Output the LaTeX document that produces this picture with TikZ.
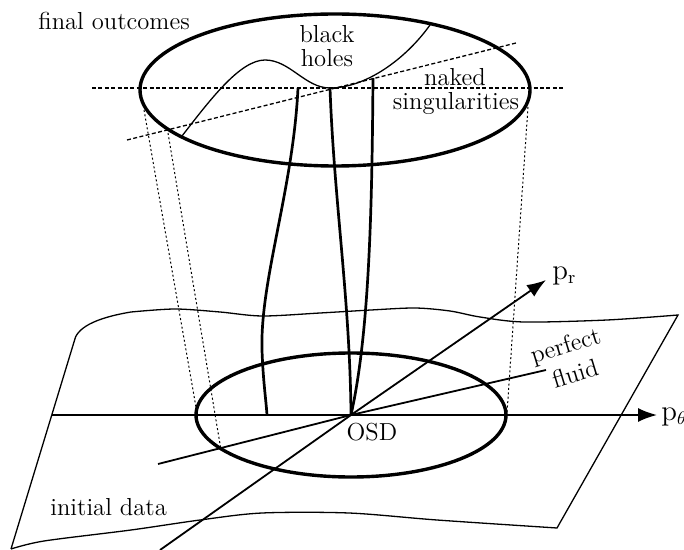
\documentclass[tikz,border=0pt]{standalone}
\usetikzlibrary{arrows.meta}
\begin{document}
\begin{tikzpicture}[x=0.5pt,y=-0.5pt,
  lbl/.style={font=\fontsize{12.3}{12.5}\selectfont, inner sep=0pt},
  plbl/.style={font=\fontsize{13.5}{14}\selectfont, inner sep=0pt},
  rim/.style={line width=1.7pt},
  thickc/.style={line width=1.35pt},
  thinl/.style={line width=0.65pt},
  axisline/.style={line width=0.9pt},
  axisarrow/.style={line width=0.9pt, -{Latex[length=9.5pt,width=7pt]}},
  dashl/.style={line width=0.65pt, dash pattern=on 2pt off 1.2pt},
  proj/.style={line width=0.5pt, dash pattern=on 1pt off 1.2pt}]
\useasboundingbox (0,0) rectangle (684,550);

% sheet of initial data
\draw[thinl] (11,549) -- (74,342) .. controls (76,328) and (95,318) .. (131,312)
  -- plot[smooth] coordinates {(131,312) (175,309) (220,312) (262,316) (320,313) (371,310) (415,308) (450,311) (480,317) (524,322) (607,320) (678,315)}
  -- (557,528)
  -- plot[smooth] coordinates {(557,528) (437,520) (349,513) (262,513) (200,520) (131,530) (44,541) (11,549)};

% ellipses
\coordinate (Ct) at (335,90);
\coordinate (O) at (351,415);
\draw[rim] (Ct) ellipse [x radius=97.5pt, y radius=38pt];
\draw[rim] (O) ellipse [x radius=77.5pt, y radius=31pt];

% dashed lines in the final outcomes
\coordinate (h1) at (92,88);
\coordinate (h2) at (564,88);
\draw[dashl] (h1) -- (h2);
\coordinate (s1) at (127,140);
\coordinate (s2) at (516,43);
\draw[dashl] (s1) -- (s2);

% black hole boundary curve
\draw[thinl] (182,136) .. controls (210,100) and (240,60) .. (265,60)
  .. controls (290,60) and (305,88) .. (330,88)
  .. controls (365,88) and (405,60) .. (430,25);

% evolution curves
\draw[thickc] (298,88) .. controls (293,190) and (260,280) .. (262,350)
  .. controls (263,380) and (266,400) .. (267,415);
\draw[thickc] (330,88) .. controls (334,200) and (350,300) .. (351,415);
\draw[thickc] (373,78) .. controls (372,200) and (370,330) .. (351,415);

% projection lines
\coordinate (pa1) at (144,110); \coordinate (pa2) at (197,413);
\coordinate (pb1) at (168,133); \coordinate (pb2) at (221,450);
\coordinate (pc1) at (528,107); \coordinate (pc2) at (507,413);
\draw[proj] (pa1) -- (pa2);
\draw[proj] (pb1) -- (pb2);
\draw[proj] (pc1) -- (pc2);

% axes
\coordinate (th0) at (52,415);
\coordinate (th1) at (657,415);
\coordinate (r0) at (160,550);
\coordinate (r1) at (546,280);
\coordinate (f0) at (158,464);
\coordinate (f1) at (546,370);
\draw[axisarrow] (th0) -- (th1);
\draw[axisarrow] (r0) -- (O) -- (r1);
\draw[axisline] (f0) -- (O) -- (f1);

% labels
\node[lbl, anchor=base west] (fo) at (38,30) {final outcomes};
\node[lbl, anchor=base] (bl) at (327,43) {black};
\node[lbl, anchor=base] (ho) at (327,67) {holes};
\node[lbl, anchor=base] (na) at (455,86) {naked};
\node[lbl, anchor=base] (si) at (456,110) {singularities};
\node[lbl, anchor=base] (osd) at (372,440) {OSD};
\node[plbl, anchor=base west] (pr) at (552,279) {$\mathrm{p}_\mathrm{r}$};
\node[plbl, anchor=base west] (pt) at (661,420) {$\mathrm{p}_\theta$};
\node[lbl, rotate=17] (pf1) at (566,347) {perfect};
\node[lbl, rotate=17] (pf2) at (575,373) {fluid};
\node[lbl, anchor=base west] (id) at (50,515) {initial data};
\end{tikzpicture}
\end{document}
